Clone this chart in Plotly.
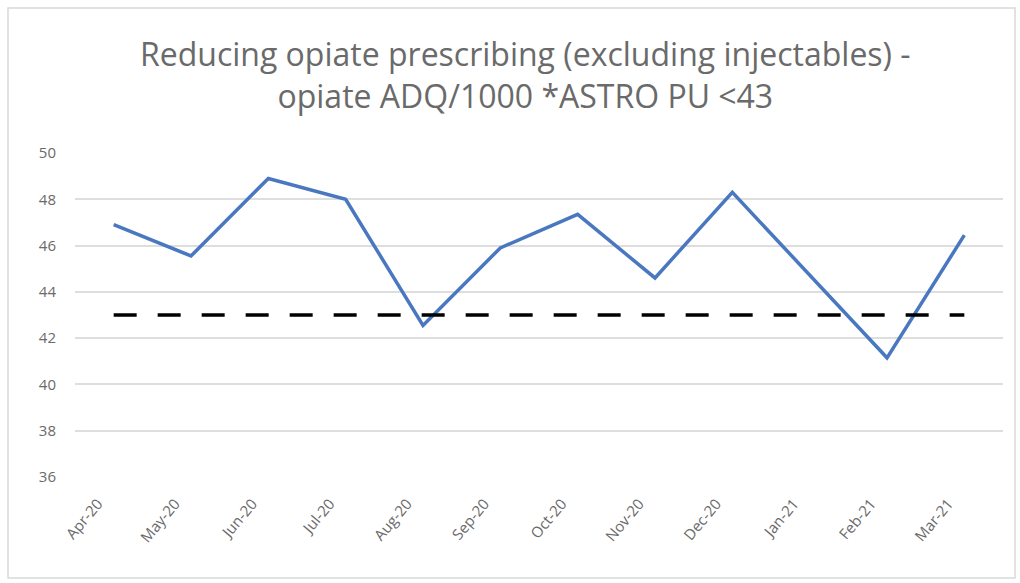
import plotly.graph_objects as go

months = ["Apr-20", "May-20", "Jun-20", "Jul-20", "Aug-20", "Sep-20",
          "Oct-20", "Nov-20", "Dec-20", "Jan-21", "Feb-21", "Mar-21"]
adq_per_1000 = [46.9, 45.55, 48.9, 48.0, 42.55, 45.9,
                47.35, 44.6, 48.3, 44.7, 41.15, 46.45]
target = [43] * len(months)
y_ticks = [36, 38, 40, 42, 44, 46, 48, 50]

W, H = 1020, 583
L, R, T, B = 75, 17, 153, 106

fig = go.Figure()
fig.add_trace(go.Scatter(x=months, y=adq_per_1000, mode="lines",
                         line=dict(color="#4a78c0", width=3.5),
                         showlegend=False))
fig.add_trace(go.Scatter(x=months, y=target, mode="lines",
                         line=dict(color="#000000", width=3.5, dash="23px,21px"),
                         showlegend=False))

# outer chart border
pw, ph = W - L - R, H - T - B
fig.add_shape(type="rect", xref="paper", yref="paper",
              x0=(8 - L) / pw, x1=(1015 - L) / pw,
              y0=(H - B - 578) / ph, y1=(H - B - 8) / ph,
              line=dict(color="#d9d9d9", width=1.5), layer="below")

fig.update_layout(
    width=W, height=H,
    margin=dict(l=L, r=R, t=T, b=B),
    paper_bgcolor="white", plot_bgcolor="white",
    font=dict(family="Open Sans, Liberation Sans, sans-serif", color="#595959"),
    title=dict(text="Reducing opiate prescribing (excluding injectables) -<br>opiate ADQ/1000 *ASTRO PU <43",
               x=0.515, xanchor="center", y=0.886, yanchor="middle",
               font=dict(size=32, color="#6a6a6a", family="Open Sans, sans-serif")),
    xaxis=dict(type="category", range=[-0.5, len(months) - 0.5],
               showgrid=False, showline=False, zeroline=False,
               tickangle=-50, tickfont=dict(size=15, color="#6a6a6a"), ticks="",
               ticklabelstandoff=14, ticklabelshift=-16),
    yaxis=dict(range=[36, 50], tickvals=y_ticks, showgrid=True,
               gridcolor="#dedede", gridwidth=1.5, zeroline=False, showline=False,
               tickfont=dict(size=15, color="#6a6a6a"), ticks="", ticklabelstandoff=18),
)

fig.write_html("out.html")
